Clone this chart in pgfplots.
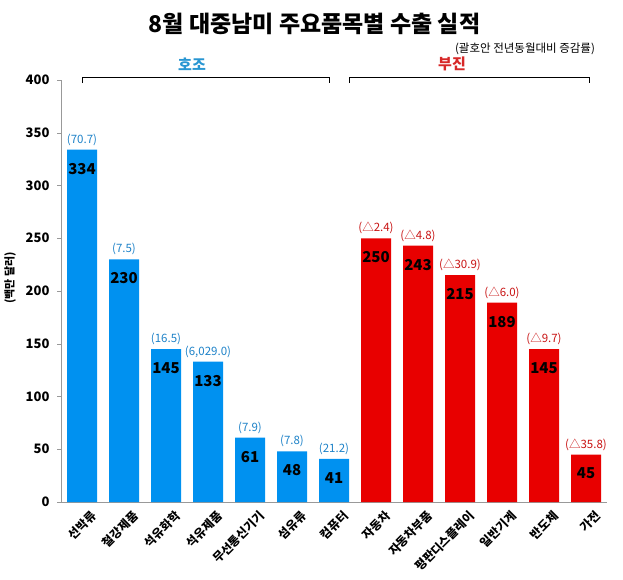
\documentclass[border=0pt]{standalone}
\usepackage{fontspec}
\setmainfont{Noto Sans CJK KR}
\usepackage{pgfplots}
\usepackage{pgfplotstable}
\pgfplotsset{compat=1.18}
\definecolor{barblue}{RGB}{0,145,240}
\definecolor{barred}{RGB}{232,0,0}
\definecolor{labblue}{RGB}{30,130,200}
\definecolor{labred}{RGB}{200,20,20}
\definecolor{hoblue}{RGB}{40,150,210}
\definecolor{bured}{RGB}{215,40,40}

\pgfplotstableread{
x y ann
0 334 (70.7)
1 230 (7.5)
2 145 (16.5)
3 133 (6,029.0)
4 61 (7.9)
5 48 (7.8)
6 41 (21.2)
}\good
\pgfplotstableread{
x y ann
7 250 (△2.4)
8 243 (△4.8)
9 215 (△30.9)
10 189 (△6.0)
11 145 (△9.7)
12 45 (△35.8)
}\bad

\begin{document}
\begin{tikzpicture}
\begin{axis}[
  at={(0pt,0pt)}, anchor=south west,
  width=546pt, height=422pt, scale only axis,
  xmin=-0.5, xmax=12.5, ymin=0, ymax=400,
  clip=false,
  ybar, bar width=30pt,
  axis x line*=bottom, axis y line*=left,
  axis line style={black!40, line width=0.6pt},
  ytick={0,50,...,400},
  xtick={0,...,12},
  xticklabels={선박류,철강제품,석유화학,석유제품,무선통신기기,섬유류,컴퓨터,자동차,자동차부품,평판디스플레이,일반기계,반도체,가전},
  minor xtick={-0.5,0.5,...,12.5},
  tick align=outside,
  major tick length=4pt, minor tick length=3pt,
  xtick style={draw=none},
  minor tick style={black!30},
  ytick style={black!40},
  /pgf/number format/assume math mode=true,
  yticklabel style={font=\bfseries\fontsize{13}{13}\selectfont, xshift=-4pt},
  xticklabel style={rotate=45, anchor=east, font=\bfseries\fontsize{12}{12}\selectfont, inner sep=1pt, xshift=4pt, yshift=-14pt},
]
\addplot[fill=barblue, draw=none, bar shift=0pt,
  nodes near coords, point meta=explicit symbolic,
  every node near coord/.append style={anchor=center, yshift=-19pt, font=\bfseries\fontsize{15}{15}\selectfont, text=black}]
  table[x=x, y=y, meta=y]{\good};
\addplot[fill=barred, draw=none, bar shift=0pt,
  nodes near coords, point meta=explicit symbolic,
  every node near coord/.append style={anchor=center, yshift=-19pt, font=\bfseries\fontsize{15}{15}\selectfont, text=black}]
  table[x=x, y=y, meta=y]{\bad};
\addplot[draw=none, fill=none, bar shift=0pt,
  nodes near coords, point meta=explicit symbolic,
  every node near coord/.append style={anchor=center, yshift=10pt, font=\fontsize{11.5}{11.5}\selectfont, text=labblue}]
  table[x=x, y=y, meta=ann]{\good};
\addplot[draw=none, fill=none, bar shift=0pt,
  nodes near coords, point meta=explicit symbolic,
  every node near coord/.append style={anchor=center, yshift=10pt, font=\fontsize{11.5}{11.5}\selectfont, text=labred}]
  table[x=x, y=y, meta=ann]{\bad};
\draw[black, line width=0.8pt] (axis cs:0,397) -- (axis cs:0,402) -- (axis cs:5.9,402) -- (axis cs:5.9,397);
\draw[black, line width=0.8pt] (axis cs:6.36,397) -- (axis cs:6.36,402) -- (axis cs:12.07,402) -- (axis cs:12.07,397);
\end{axis}
\node[font=\bfseries\fontsize{23}{23}\selectfont] at (253.5pt,478pt) {8월 대중남미 주요품목별 수출 실적};
\node[font=\fontsize{11.5}{11.5}\selectfont] at (464pt,453pt) {(괄호안 전년동월대비 증감률)};
\node[font=\bfseries\fontsize{15}{15}\selectfont, text=hoblue] at (131pt,438pt) {호조};
\node[font=\bfseries\fontsize{15}{15}\selectfont, text=bured] at (391pt,438pt) {부진};
\node[font=\bfseries\fontsize{11}{11}\selectfont, rotate=90] at (-51pt,224pt) {(백만 달러)};
\pgfresetboundingbox
\useasboundingbox (-61pt,-77pt) rectangle (562pt,502pt);
\end{tikzpicture}
\end{document}
